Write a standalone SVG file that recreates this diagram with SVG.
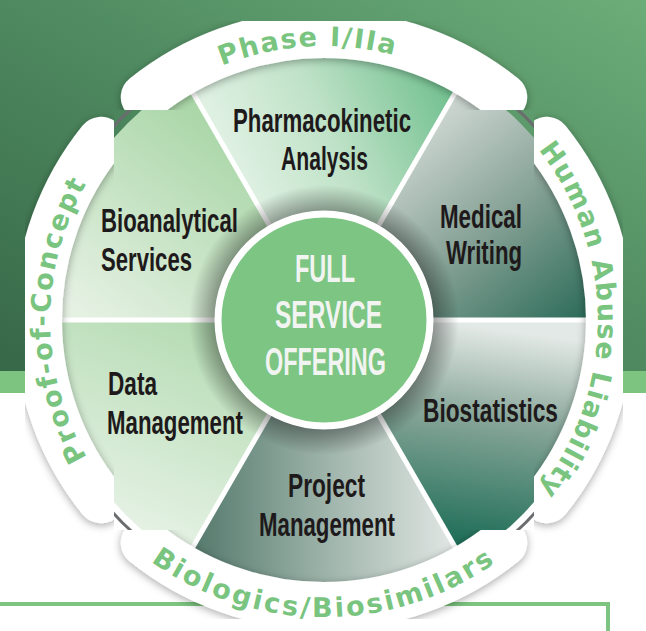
<svg xmlns="http://www.w3.org/2000/svg" width="646" height="631" viewBox="0 0 646 631">
<defs>
<style>
.lbl{font-family:"Liberation Sans",Arial,sans-serif;font-weight:bold;font-size:34px;fill:#1e1a1b}
.ctr{font-family:"Liberation Sans",Arial,sans-serif;font-weight:bold;font-size:38px;fill:#f1f4f1}
.ring{font-family:"DejaVu Sans",sans-serif;font-weight:bold;font-size:27px;fill:#79c47f}
.band{fill:none;stroke:#fff;stroke-width:48;stroke-linecap:round}
.div{stroke:#fff;stroke-width:5}
.link{fill:none;stroke:#6a6c6e;stroke-width:3}
</style>
<linearGradient id="bg" x1="0" y1="1" x2="1" y2="0">
<stop offset="0" stop-color="#376848"/><stop offset="0.5" stop-color="#4e895f"/><stop offset="1" stop-color="#6cad79"/>
</linearGradient>
<linearGradient id="gPK" gradientUnits="userSpaceOnUse" x1="215" y1="200" x2="455" y2="90">
<stop offset="0" stop-color="#e9f5eb"/><stop offset="0.5" stop-color="#bfe2c7"/><stop offset="1" stop-color="#6fbf8e"/>
</linearGradient>
<linearGradient id="gMW" gradientUnits="userSpaceOnUse" x1="420" y1="110" x2="590" y2="320">
<stop offset="0" stop-color="#d5dcd8"/><stop offset="0.5" stop-color="#85a195"/><stop offset="1" stop-color="#2a6a57"/>
</linearGradient>
<linearGradient id="gBS" gradientUnits="userSpaceOnUse" x1="500" y1="330" x2="470" y2="550">
<stop offset="0" stop-color="#e3e9e6"/><stop offset="0.4" stop-color="#88a699"/><stop offset="1" stop-color="#1a6b54"/>
</linearGradient>
<linearGradient id="gPM" gradientUnits="userSpaceOnUse" x1="200" y1="500" x2="450" y2="500">
<stop offset="0" stop-color="#587c6f"/><stop offset="0.5" stop-color="#9db3aa"/><stop offset="1" stop-color="#dfe5e2"/>
</linearGradient>
<linearGradient id="gDM" gradientUnits="userSpaceOnUse" x1="240" y1="330" x2="150" y2="540">
<stop offset="0" stop-color="#b3dbb1"/><stop offset="1" stop-color="#e6f2e5"/>
</linearGradient>
<linearGradient id="gBA" gradientUnits="userSpaceOnUse" x1="240" y1="100" x2="80" y2="310">
<stop offset="0" stop-color="#a2d3a0"/><stop offset="1" stop-color="#e5f1e3"/>
</linearGradient>
<radialGradient id="halo" gradientUnits="userSpaceOnUse" cx="324" cy="320" r="135">
<stop offset="0.78" stop-color="#000" stop-opacity="0.4"/><stop offset="1" stop-color="#000" stop-opacity="0"/>
</radialGradient>
<filter id="sh" x="-20%" y="-20%" width="140%" height="140%">
<feDropShadow dx="0" dy="2" stdDeviation="4" flood-color="#000" flood-opacity="0.35"/>
</filter>
<path id="tpTop" d="M51.8,288.5 A274,274 0 0 1 590.5,256.5"/>
<path id="tpRight" d="M371.6,50.2 A274,274 0 0 1 371.6,589.8"/>
<path id="tpLeft" d="M276.4,589.8 A274,274 0 0 1 276.4,50.2"/>
<path id="tpBottom" d="M31.5,371.6 A297,297 0 0 0 616.5,371.6"/>
</defs>

<rect width="646" height="631" fill="#fff"/>
<rect width="646" height="371" fill="url(#bg)"/>
<rect y="371" width="646" height="22" fill="#7cc47f"/>
<path d="M0,604 H608 V631" fill="none" stroke="#7cc47f" stroke-width="4"/>

<g id="seg-pharmacokinetic">
<path d="M324,320 L185,79.25 A278,278 0 0 1 463,79.25 Z" fill="url(#gPK)"/>
<text class="lbl" x="233" y="132" textLength="178" lengthAdjust="spacingAndGlyphs">Pharmacokinetic</text>
<text class="lbl" x="281" y="170" textLength="87" lengthAdjust="spacingAndGlyphs">Analysis</text>
</g>
<g id="seg-medical-writing">
<path d="M324,320 L463,79.25 A278,278 0 0 1 602,320 Z" fill="url(#gMW)"/>
<text class="lbl" x="440" y="228" textLength="82" lengthAdjust="spacingAndGlyphs">Medical</text>
<text class="lbl" x="446" y="264" textLength="76" lengthAdjust="spacingAndGlyphs">Writing</text>
</g>
<g id="seg-biostatistics">
<path d="M324,320 L602,320 A278,278 0 0 1 463,560.75 Z" fill="url(#gBS)"/>
<text class="lbl" x="423" y="422" textLength="135" lengthAdjust="spacingAndGlyphs">Biostatistics</text>
</g>
<g id="seg-project-management">
<path d="M324,320 L463,560.75 A278,278 0 0 1 185,560.75 Z" fill="url(#gPM)"/>
<text class="lbl" x="288" y="497" textLength="77" lengthAdjust="spacingAndGlyphs">Project</text>
<text class="lbl" x="259" y="536" textLength="136" lengthAdjust="spacingAndGlyphs">Management</text>
</g>
<g id="seg-data-management">
<path d="M324,320 L185,560.75 A278,278 0 0 1 46,320 Z" fill="url(#gDM)"/>
<text class="lbl" x="108" y="395" textLength="49" lengthAdjust="spacingAndGlyphs">Data</text>
<text class="lbl" x="107" y="434" textLength="136" lengthAdjust="spacingAndGlyphs">Management</text>
</g>
<g id="seg-bioanalytical">
<path d="M324,320 L46,320 A278,278 0 0 1 185,79.25 Z" fill="url(#gBA)"/>
<text class="lbl" x="101" y="232" textLength="137" lengthAdjust="spacingAndGlyphs">Bioanalytical</text>
<text class="lbl" x="101" y="271" textLength="91" lengthAdjust="spacingAndGlyphs">Services</text>
</g>

<g id="dividers">
<line class="div" x1="324" y1="320" x2="602" y2="320"/>
<line class="div" x1="324" y1="320" x2="46" y2="320"/>
<line class="div" x1="324" y1="320" x2="463" y2="79.25"/>
<line class="div" x1="324" y1="320" x2="185" y2="79.25"/>
<line class="div" x1="324" y1="320" x2="463" y2="560.75"/>
<line class="div" x1="324" y1="320" x2="185" y2="560.75"/>
</g>

<g id="center">
<circle cx="324" cy="320" r="135" fill="url(#halo)"/>
<circle cx="324" cy="320" r="106" fill="#7cc583" stroke="#fff" stroke-width="7"/>
<text class="ctr" x="295" y="282" textLength="60" lengthAdjust="spacingAndGlyphs">FULL</text>
<text class="ctr" x="275" y="328" textLength="107" lengthAdjust="spacingAndGlyphs">SERVICE</text>
<text class="ctr" x="265" y="375" textLength="121" lengthAdjust="spacingAndGlyphs">OFFERING</text>
</g>

<g id="connectors">
<path class="link" d="M108.2,132.4 A286,286 0 0 1 136.4,104.2"/>
<path class="link" d="M511.6,104.2 A286,286 0 0 1 539.8,132.4"/>
<path class="link" d="M539.8,507.6 A286,286 0 0 1 511.6,535.8"/>
<path class="link" d="M136.4,535.8 A286,286 0 0 1 108.2,507.6"/>
</g>

<g id="band-phase">
<path class="band" filter="url(#sh)" d="M144.8,97.1 A286,286 0 0 1 503.2,97.1"/>
<text class="ring" letter-spacing="1.6"><textPath href="#tpTop" startOffset="50%" text-anchor="middle">Phase I/IIa</textPath></text>
</g>
<g id="band-human-abuse">
<path class="band" filter="url(#sh)" d="M546.9,140.8 A286,286 0 0 1 546.9,499.2"/>
<text class="ring" letter-spacing="1.2"><textPath href="#tpRight" startOffset="50%" text-anchor="middle">Human Abuse Liability</textPath></text>
</g>
<g id="band-biologics">
<path class="band" filter="url(#sh)" d="M503.2,542.9 A286,286 0 0 1 144.8,542.9"/>
<text class="ring" letter-spacing="2.6"><textPath href="#tpBottom" startOffset="50%" text-anchor="middle">Biologics/Biosimilars</textPath></text>
</g>
<g id="band-proof">
<path class="band" filter="url(#sh)" d="M101.1,499.2 A286,286 0 0 1 101.1,140.8"/>
<text class="ring" letter-spacing="1.9"><textPath href="#tpLeft" startOffset="50%" text-anchor="middle">Proof-of-Concept</textPath></text>
</g>
</svg>
